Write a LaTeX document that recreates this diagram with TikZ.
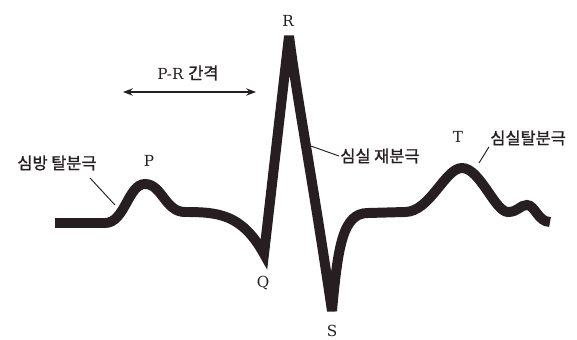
\documentclass[tikz,border=0pt]{standalone}
\usepackage{fontspec}
\newfontfamily\kr[AutoFakeBold=1.3]{Noto Sans CJK KR}
\newfontfamily\lat{DejaVu Serif}
\usetikzlibrary{arrows.meta}
\definecolor{ink}{RGB}{38,30,32}

\begin{document}
\begin{tikzpicture}[
        x=0.03cm, y=-0.03cm,
        >=Stealth,
        wave/.style={
            line width=8.5pt,
            line join=miter,
            miter limit=5,
            draw=ink
        },
        peak/.style={font=\lat\fontsize{13}{16}\selectfont, text=ink, inner sep=1pt},
        krlabel/.style={font=\kr\bfseries\fontsize{14}{16}\selectfont, text=ink, inner sep=1pt},
        leader/.style={line width=0.8pt, draw=ink}
    ]
        \useasboundingbox (0,0) rectangle (577,340);

        % Points of the wave
        \coordinate (p) at (145,184);
        \coordinate (q) at (264,254);
        \coordinate (r) at (289,36);
        \coordinate (s) at (332,311);
        \coordinate (t) at (462,168);

        % The wave
        \draw[wave] (55,223) -- (105,223)
            .. controls (125,223) and (128,184) .. (p)
            .. controls (162,184) and (165,212) .. (185,212)
            .. controls (218,212) and (242,214) .. (q)
            -- (r)
            .. controls (298,105) and (312,175) .. (s)
            .. controls (338,245) and (343,213) .. (368,213)
            -- (405,212)
            .. controls (430,212) and (445,168) .. (t)
            .. controls (480,168) and (495,212) .. (508,212)
            .. controls (518,212) and (520,205) .. (527,205)
            .. controls (535,205) and (538,222) .. (550,222);

        % Peak letters
        \node[peak] (lp) at (149,161) {P};
        \node[peak] (lq) at (263,283) {Q};
        \node[peak] (lr) at (288,21) {R};
        \node[peak] (ls) at (332,331) {S};
        \node[peak] (lt) at (458,137) {T};

        % P-R interval
        \coordinate (prl) at (123,92);
        \coordinate (prr) at (256,92);
        \draw[<->, line width=1.2pt, draw=ink] (prl) -- (prr);
        \node[peak] (pr) at (188,73) {P-R {\kr\bfseries\fontsize{14}{16}\selectfont 간격}};

        % Labels with leaders
        \node[krlabel] (atr) at (57,163) {심방 탈분극};
        \coordinate (atrfrom) at (90,178);
        \coordinate (atrtip) at (115,205);
        \draw[leader] (atrfrom) -- (atrtip);

        \node[krlabel, anchor=west] (rep) at (339,156) {심실 재분극};
        \coordinate (reptip) at (308,145);
        \draw[leader] (rep.west) -- (reptip);

        \node[krlabel, anchor=west] (dep) at (489,138) {심실탈분극};
        \coordinate (deptip) at (479,163);
        \draw[leader] (dep.south west) -- (deptip);
    \end{tikzpicture}
\end{document}
